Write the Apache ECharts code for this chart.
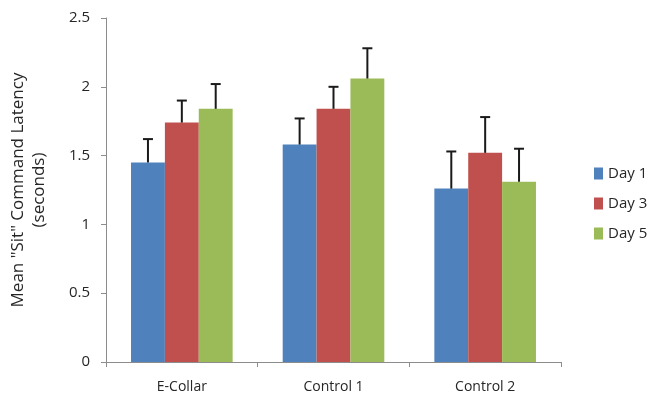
<!DOCTYPE html>
<html>
<head>
<meta charset="utf-8">
<script src="https://cdn.jsdelivr.net/npm/echarts@6/dist/echarts.min.js"></script>
<style>
html, body { margin: 0; padding: 0; background: #fff; }
#chart { width: 661px; height: 404px; }
</style>
</head>
<body>
<div id="chart"></div>
<script>
// values
var categories = ['E-Collar', 'Control 1', 'Control 2'];
var seriesNames = ['Day 1', 'Day 3', 'Day 5'];
var day1 = [1.45, 1.58, 1.26];
var day3 = [1.74, 1.84, 1.52];
var day5 = [1.84, 2.06, 1.31];
var err1 = [0.17, 0.19, 0.27];
var err3 = [0.16, 0.16, 0.26];
var err5 = [0.18, 0.22, 0.24];
var yTicks = [0, 0.5, 1, 1.5, 2, 2.5];

var colors = ['#4F81BD', '#C0504D', '#9BBB59'];
var values = [day1, day3, day5];
var errors = [err1, err3, err5];
var gapRatio = 0.33;

var chart = echarts.init(document.getElementById('chart'));

function errorSeries(idx) {
    return {
        type: 'custom',
        name: seriesNames[idx] + ' err',
        z: 10,
        silent: true,
        data: values[idx].map(function (v, i) { return [i, v, v + errors[idx][i]]; }),
        renderItem: function (params, api) {
            var band = api.size([1, 0])[0];
            var barW = band * (1 - gapRatio) / 3;
            var base = api.coord([api.value(0), api.value(1)]);
            var top = api.coord([api.value(0), api.value(2)]);
            var x = base[0] + (idx - 1) * barW;
            var cap = 5;
            var style = {stroke: '#1a1a1a', lineWidth: 2};
            return {
                type: 'group',
                children: [
                    {type: 'line', shape: {x1: x, y1: base[1], x2: x, y2: top[1]}, style: style},
                    {type: 'line', shape: {x1: x - cap, y1: top[1], x2: x + cap, y2: top[1]}, style: style}
                ]
            };
        }
    };
}

var series = [];
for (var k = 0; k < 3; k++) {
    series.push({
        type: 'bar',
        name: seriesNames[k],
        data: values[k],
        barGap: '0%',
        barCategoryGap: (gapRatio * 100) + '%',
        itemStyle: {color: colors[k]}
    });
}
for (var m = 0; m < 3; m++) series.push(errorSeries(m));

var textColor = '#262626';
var option = {
    animation: false,
    textStyle: {fontFamily: 'Open Sans'},
    grid: {left: 105, right: 100, top: 18, bottom: 42},
    legend: {
        orient: 'vertical',
        left: 589,
        top: 161,
        itemWidth: 9,
        itemHeight: 12,
        itemGap: 15,
        icon: 'rect',
        data: seriesNames,
        textStyle: {color: textColor, fontSize: 15, fontFamily: 'Open Sans'}
    },
    xAxis: {
        type: 'category',
        data: categories,
        axisLine: {lineStyle: {color: '#8c8c8c', width: 1}},
        axisTick: {show: true, length: 5, lineStyle: {color: '#8c8c8c'}},
        axisLabel: {color: textColor, fontSize: 14, margin: 18, fontFamily: 'Open Sans'}
    },
    yAxis: {
        type: 'value',
        min: yTicks[0],
        max: yTicks[yTicks.length - 1],
        interval: 0.5,
        name: 'Mean "Sit" Command Latency\n(seconds)',
        nameLocation: 'middle',
        nameRotate: 90,
        nameGap: 56,
        nameTextStyle: {color: textColor, fontSize: 17, lineHeight: 21, fontFamily: 'Open Sans'},
        axisLine: {show: true, lineStyle: {color: '#8c8c8c', width: 1}},
        axisTick: {show: true, length: 5, lineStyle: {color: '#8c8c8c'}},
        splitLine: {show: false},
        axisLabel: {color: textColor, fontSize: 15, margin: 16, fontFamily: 'Open Sans'}
    },
    series: series
};
chart.setOption(option);
</script>
</body>
</html>
